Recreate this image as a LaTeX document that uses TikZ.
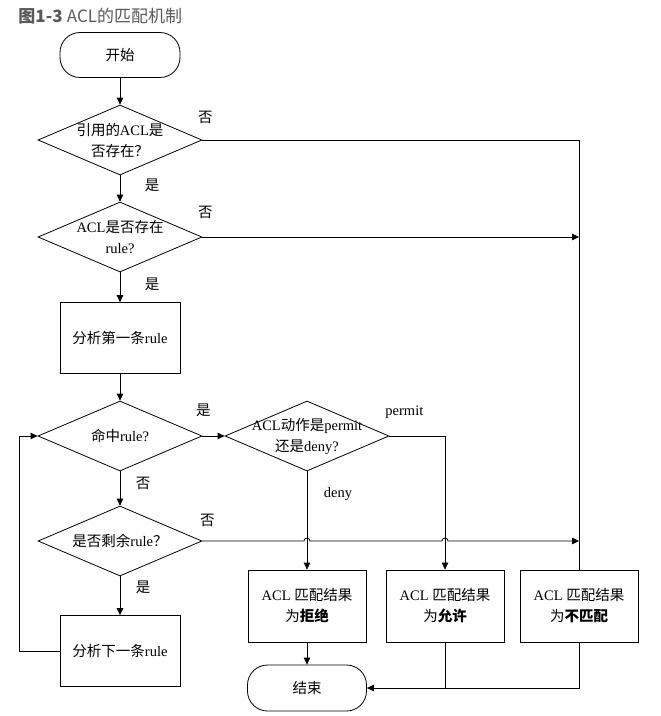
\documentclass[tikz,border=0pt]{standalone}
\usepackage{fontspec}
\setmainfont{Liberation Serif}
\newfontfamily\cjk{Noto Sans CJK SC}
\usetikzlibrary{shapes.geometric,arrows.meta,calc}
\newcommand{\zh}[1]{{\cjk #1}}

\begin{document}
\begin{tikzpicture}[x=1pt,y=-1pt,line width=0.8pt,
        font=\fontsize{14.5}{21}\selectfont,
        arr/.style={-{Triangle[length=7pt,width=6.5pt]}},
        term/.style={draw,rounded corners=20pt,minimum width=120pt,minimum height=45pt},
        proc/.style={draw,minimum width=120pt,minimum height=71pt,align=center},
        dec/.style={draw,diamond,minimum width=164pt,minimum height=70pt,inner sep=0pt},
        lbl/.style={inner sep=0pt}]
                \useasboundingbox (0,0) rectangle (661,716);
                \node[anchor=west,inner sep=0pt,text=black!65,font=\fontsize{17}{19}\selectfont] (title) at (18,16) {\zh{\bfseries 图1-3} \zh{ACL的匹配机制}};
                \node[term] (start) at (120,55) {\zh{开始}};
                \node[dec,label={[align=center]center:\zh{引用的}ACL\zh{是}\\\zh{否存在？}}] (d1) at (120,140) {};
                \node[dec,label={[align=center]center:ACL\zh{是否存在}\\rule?}] (d2) at (120,237) {};
                \node[proc] (n1) at (120,338) {\zh{分析第一条}rule};
                \node[dec,label={center:\zh{命中}rule?}] (d3) at (120,436) {};
                \node[dec,label={[align=center]center:ACL\zh{动作是}permit\\\zh{还是}deny?}] (d4) at (307,436) {};
                \node[dec,label={center:\zh{是否剩余}rule\zh{？}}] (d5) at (120,541) {};
                \node[proc] (n2) at (120,651) {\zh{分析下一条}rule};
                \node[proc,minimum width=118pt,minimum height=72pt] (rej) at (307,606) {ACL \zh{匹配结果}\\\zh{为{\bfseries 拒绝}}};
                \node[proc,minimum width=118pt,minimum height=72pt] (acc) at (445,606) {ACL \zh{匹配结果}\\\zh{为{\bfseries 允许}}};
                \node[proc,minimum width=118pt,minimum height=72pt] (no) at (579,606) {ACL \zh{匹配结果}\\\zh{为{\bfseries 不匹配}}};
                \node[term,minimum width=119pt,minimum height=46pt] (end) at (307,688) {\zh{结束}};
                \node[lbl] (y1) at ([shift={(3,-23)}]d1.east) {\zh{否}};
                \node[lbl] (s1) at ([shift={(32,10)}]d1.south) {\zh{是}};
                \node[lbl] (y2) at ([shift={(3,-25)}]d2.east) {\zh{否}};
                \node[lbl] (s2) at ([shift={(32,12)}]d2.south) {\zh{是}};
                \node[lbl] (s3) at ([shift={(1,-26)}]d3.east) {\zh{是}};
                \node[lbl] (y3) at ([shift={(23,12)}]d3.south) {\zh{否}};
                \node[lbl] (pm) at ([shift={(15,-24)}]d4.east) {permit};
                \node[lbl] (dn) at ([shift={(31,23)}]d4.south) {deny};
                \node[lbl] (y5) at ([shift={(5,-21)}]d5.east) {\zh{否}};
                \node[lbl] (s5) at ([shift={(23,11)}]d5.south) {\zh{是}};
                \draw[arr] (start.south)--(d1.north);
                \draw[arr] (d1.south)--(d2.north);
                \draw[arr] (d2.south)--(n1.north);
                \draw[arr] (n1.south)--(d3.north);
                \draw[arr] (d3.south)--(d5.north);
                \draw[arr] (d5.south)--(n2.north);
                \draw[arr] (n2.west)--++(-40,0)|-(d3.west);
                \draw[arr] (d3.east)--(d4.west);
                \draw[arr] (d4.south)--(rej.north);
                \draw[arr] (d4.east)-|(acc.north);
                \draw (d1.east)-|(no.north);
                \draw[arr] (d2.east)--(d2.east-|no.north);
                \draw[arr] (d5.east)--($(d5.east-|rej.north)+(-3,0)$) arc[start angle=180,end angle=0,radius=3pt]
                    --($(d5.east-|acc.north)+(-3,0)$) arc[start angle=180,end angle=0,radius=3pt]--(d5.east-|no.north);
                \draw[arr] (rej.south)--(end.north);
                \draw (acc.south)--(acc.south|-end.east);
                \draw[arr] (no.south)|-(end.east);
            \end{tikzpicture}
\end{document}
